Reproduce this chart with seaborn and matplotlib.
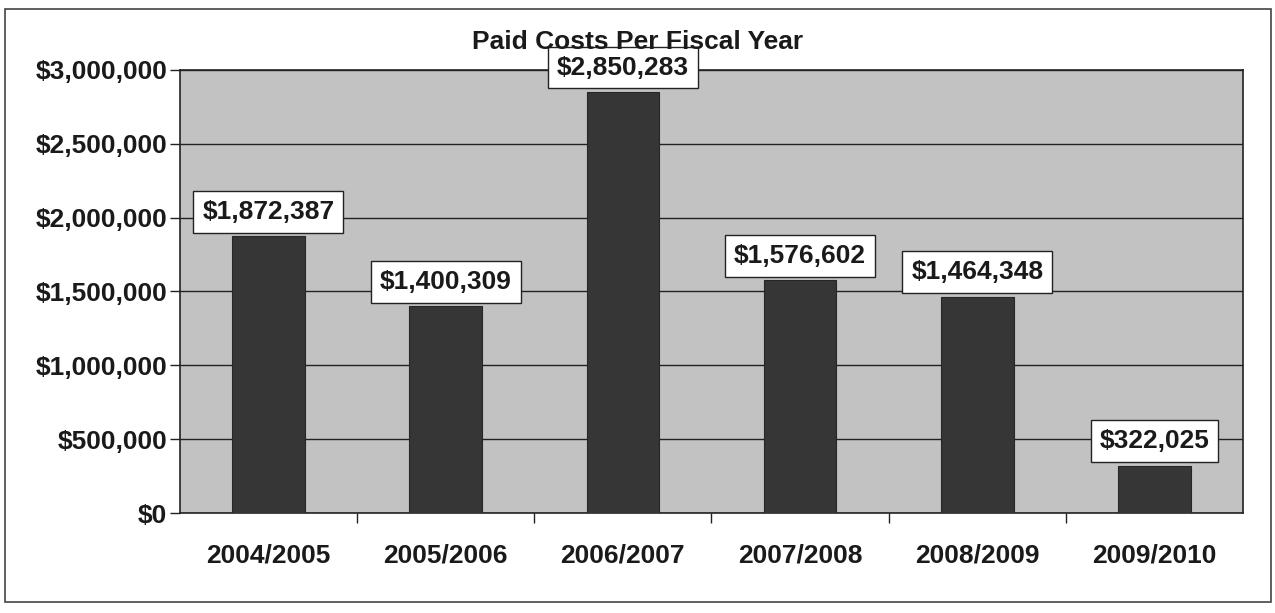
import matplotlib
matplotlib.use("Agg")
import matplotlib.pyplot as plt
from matplotlib.patches import Rectangle
from matplotlib.ticker import FuncFormatter, MultipleLocator
import seaborn as sns
import pandas as pd

fiscal_years = ["2004/2005", "2005/2006", "2006/2007", "2007/2008", "2008/2009", "2009/2010"]
paid_costs = [1872387, 1400309, 2850283, 1576602, 1464348, 322025]

sns.set_theme(style="white")
plt.rcParams["font.family"] = ["Liberation Sans", "DejaVu Sans"]

df = pd.DataFrame({"year": fiscal_years, "cost": paid_costs})

fig = plt.figure(figsize=(12.75, 6.13), dpi=100)
fig.patch.set_facecolor("white")
fig.patches.append(Rectangle((0.004, 0.018), 0.993, 0.968, transform=fig.transFigure,
                             fill=False, edgecolor="#444444", linewidth=1.2))

ax = fig.add_axes([0.141, 0.163, 0.834, 0.723])
ax.set_facecolor("#c2c2c2")

sns.barplot(data=df, x="year", y="cost", ax=ax, color="#363636", width=0.41,
            saturation=1, edgecolor="#262626", linewidth=0.8, zorder=3)

ax.set_ylim(0, 3000000)
ax.set_xlim(-0.5, len(fiscal_years) - 0.5)
ax.yaxis.set_major_locator(MultipleLocator(500000))
ax.yaxis.set_major_formatter(FuncFormatter(lambda v, p: f"${v:,.0f}"))
ax.grid(axis="y", color="#222222", linewidth=1.0, zorder=1)
ax.set_axisbelow(True)

for s in ax.spines.values():
    s.set_visible(True)
    s.set_color("#222222")
    s.set_linewidth(1.2)

ax.set_xlabel("")
ax.set_ylabel("")
ax.tick_params(axis="y", which="major", length=7, width=1, color="#222222", direction="out",
               left=True, pad=2, labelsize=19)
ax.tick_params(axis="x", which="major", length=0, pad=22, labelsize=19)
ax.set_xticks([i - 0.5 for i in range(1, len(fiscal_years))], minor=True)
ax.tick_params(axis="x", which="minor", length=7, width=1, color="#222222", direction="out", bottom=True)
for lbl in ax.get_xticklabels() + ax.get_yticklabels():
    lbl.set_fontweight("bold")
    lbl.set_color("#1a1a1a")

for i, v in enumerate(paid_costs):
    ax.annotate(f"${v:,.0f}", xy=(i, v), xytext=(0, 9), textcoords="offset points",
                ha="center", va="bottom", fontsize=19, fontweight="bold", color="#1a1a1a",
                bbox=dict(boxstyle="square,pad=0.34", facecolor="white", edgecolor="#222222",
                          linewidth=1.0), zorder=6, annotation_clip=False)

fig.text(0.5, 0.932, "Paid Costs Per Fiscal Year", ha="center", va="center",
         fontsize=19, fontweight="bold", color="#1a1a1a", zorder=1)

fig.savefig("out.png", dpi=100)
